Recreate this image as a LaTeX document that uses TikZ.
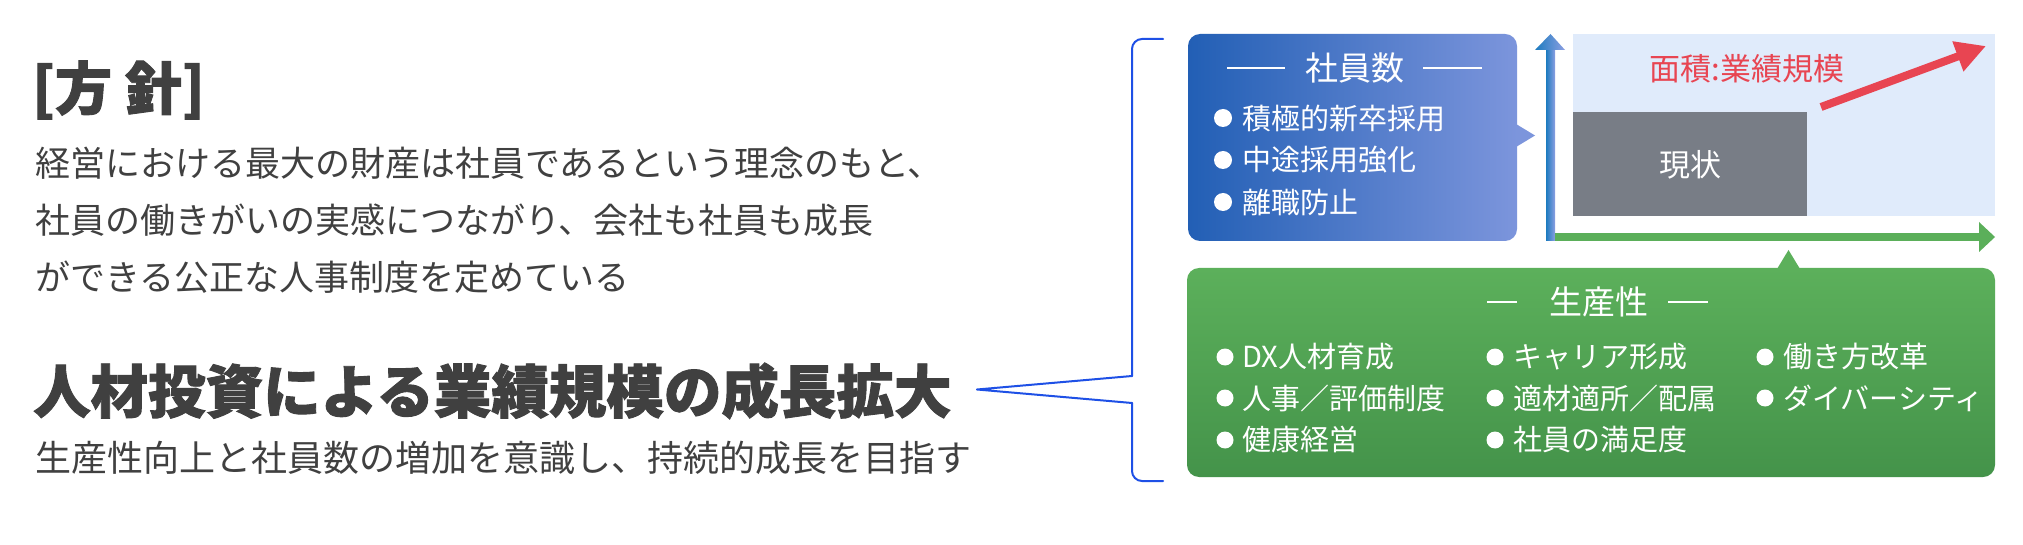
\documentclass[tikz,border=0pt]{standalone}
\usepackage{fontspec}
\setmainfont{Noto Sans CJK JP}
\newfontfamily\heavyfont{Noto Sans CJK JP}[FakeBold=1.6]
\usetikzlibrary{arrows.meta}
\definecolor{txt}{HTML}{404040}
\definecolor{blueL}{HTML}{225FB5}
\definecolor{blueR}{HTML}{7C95DC}
\definecolor{gTop}{HTML}{5CB05B}
\definecolor{gBot}{HTML}{44934A}
\definecolor{axL}{HTML}{1C7BBF}
\definecolor{axR}{HTML}{8C9FE2}
\definecolor{axG}{HTML}{5BAF5A}
\definecolor{area}{HTML}{E0EBFB}
\definecolor{cur}{HTML}{787D86}
\definecolor{redA}{HTML}{E84552}
\definecolor{brk}{HTML}{1E50E6}
\tikzset{
  bodytxt/.style={anchor=west, inner sep=0pt, text=txt, font=\fontsize{35}{40}\selectfont},
  boxtxt/.style={anchor=west, inner sep=0pt, text=white, font=\fontsize{29}{34}\selectfont},
  dot/.style={fill=white, circle, inner sep=0pt, minimum size=18pt},
  brkline/.style={draw=brk, line width=2pt, line cap=round, line join=round},
  dashline/.style={draw=white, line width=2pt}
}
\begin{document}
\begin{tikzpicture}[x=1pt,y=-1pt]
\useasboundingbox (0,0) rectangle (2023,545);
\fill[white] (0,0) rectangle (2023,545);

% ---- left texts
\node[anchor=west, inner sep=0pt, text=txt, font=\heavyfont\bfseries\fontsize{57}{62}\selectfont] (policy) at (32,90) {[方 針]};
\node[bodytxt] (l1) at (35,163) {経営における最大の財産は社員であるという理念のもと、};
\node[bodytxt] (l2) at (35,220) {社員の働きがいの実感につながり、会社も社員も成長};
\node[bodytxt] (l3) at (35,277) {ができる公正な人事制度を定めている};
\node[anchor=west, inner sep=0pt, text=txt, font=\heavyfont\bfseries\fontsize{57.5}{62}\selectfont] (head) at (33,391) {人材投資による業績規模の成長拡大};
\node[anchor=west, inner sep=0pt, text=txt, font=\fontsize{36}{40}\selectfont] (sub) at (35,458) {生産性向上と社員数の増加を意識し、持続的成長を目指す};

% ---- bracket
\coordinate (bTop) at (1163,39);
\coordinate (bBot) at (1163,481);
\coordinate (bA) at (1132,376);
\coordinate (bB) at (1132,403);
\coordinate (bTip) at (977,389.5);
\draw[brkline, rounded corners=10pt] (bTop) -- (1132,39) -- (bA);
\draw[brkline] (bA) -- (bTip) -- (bB);
\draw[brkline, rounded corners=10pt] (bB) -- (1132,481) -- (bBot);

% ---- blue box
\shade[left color=blueL, right color=blueR, rounded corners=12pt] (1188,34) rectangle (1517,241);
\fill[blueR] (1516,124) -- (1535,135.5) -- (1516,147) -- cycle;
\node[inner sep=0pt, text=white, font=\fontsize{33}{38}\selectfont] (bt) at (1355,68) {社員数};
\draw[dashline] (1227,68) -- (1285,68);
\draw[dashline] (1423,68) -- (1482,68);
\node[dot] (bd1) at (1223,118) {};
\node[dot] (bd2) at (1223,160) {};
\node[dot] (bd3) at (1223,202) {};
\node[boxtxt] (b1) at (1242,118) {積極的新卒採用};
\node[boxtxt] (b2) at (1242,160) {中途採用強化};
\node[boxtxt] (b3) at (1242,202) {離職防止};

% ---- chart
\fill[area] (1573,34) rectangle (1995,216);
\fill[cur] (1573,112) rectangle (1807,216);
\node[inner sep=0pt, text=white, font=\fontsize{31}{36}\selectfont] (now) at (1690,165) {現状};
\node[inner sep=0pt, text=redA, font=\fontsize{31}{36}\selectfont] (scale) at (1747,69) {面積:業績規模};
\coordinate (rS) at (1821,107);
\coordinate (rE) at (1986,46);
\draw[redA, line width=8pt, -{Triangle[length=30pt,width=30pt]}] (rS) -- (rE);
% vertical axis
\shade[left color=axL, right color=axR] (1546,49) rectangle (1555,241);
\shade[left color=axL, right color=axR] (1535,50) -- (1550.5,34) -- (1565,50) -- cycle;
% horizontal axis
\fill[axG] (1555,233) rectangle (1980,241);
\fill[axG] (1979,222) -- (1995,237) -- (1979,252) -- cycle;

% ---- green box
\shade[top color=gTop, bottom color=gBot, rounded corners=12pt] (1187,268) rectangle (1995,477);
\fill[gTop] (1777,269) -- (1788.5,250) -- (1800,269) -- cycle;
\node[inner sep=0pt, text=white, font=\fontsize{33}{38}\selectfont] (gt) at (1599,302) {生産性};
\draw[dashline] (1487,302) -- (1517,302);
\draw[dashline] (1668,302) -- (1708,302);
\node[dot, minimum size=17pt] (g1d) at (1225,357) {};
\node[dot, minimum size=17pt] (g2d) at (1225,398) {};
\node[dot, minimum size=17pt] (g3d) at (1225,440) {};
\node[dot, minimum size=17pt] (g4d) at (1495,357) {};
\node[dot, minimum size=17pt] (g5d) at (1495,398) {};
\node[dot, minimum size=17pt] (g6d) at (1495,440) {};
\node[dot, minimum size=17pt] (g7d) at (1765,357) {};
\node[dot, minimum size=17pt] (g8d) at (1765,398) {};
\node[boxtxt] (g1) at (1242,357) {DX人材育成};
\node[boxtxt] (g2) at (1242,398) {人事／評価制度};
\node[boxtxt] (g3) at (1242,440) {健康経営};
\node[boxtxt] (g4) at (1513,357) {キャリア形成};
\node[boxtxt] (g5) at (1513,398) {適材適所／配属};
\node[boxtxt] (g6) at (1513,440) {社員の満足度};
\node[boxtxt] (g7) at (1783,357) {働き方改革};
\node[boxtxt] (g8) at (1783,398) {ダイバーシティ};
\end{tikzpicture}
\end{document}
